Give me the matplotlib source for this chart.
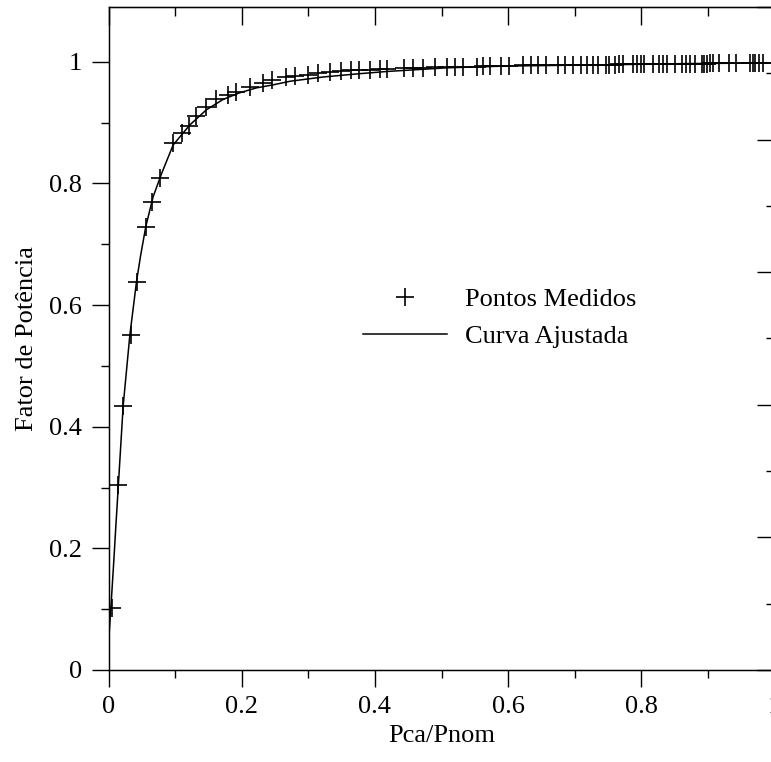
import matplotlib
matplotlib.use('Agg')
from matplotlib import pyplot as plt
from matplotlib.ticker import MultipleLocator

plt.rcParams['font.family'] = ['Liberation Serif', 'DejaVu Serif']

# pontos medidos (Pca/Pnom, fator de potencia)
pca_medido = [0.005, 0.0143, 0.022, 0.034, 0.043, 0.056, 0.065, 0.078, 0.097, 0.110,
              0.121, 0.131, 0.147, 0.162, 0.180, 0.192, 0.212, 0.232, 0.245, 0.267,
              0.280, 0.300, 0.315, 0.332, 0.349, 0.364, 0.376, 0.392, 0.407, 0.418,
              0.443, 0.457, 0.472, 0.490, 0.508, 0.520, 0.532, 0.554, 0.563, 0.573,
              0.590, 0.602, 0.622, 0.635, 0.645, 0.657, 0.675, 0.685, 0.698, 0.710,
              0.718, 0.728, 0.735, 0.747, 0.752, 0.761, 0.766, 0.773, 0.788, 0.794,
              0.799, 0.804, 0.817, 0.827, 0.832, 0.838, 0.851, 0.861, 0.867, 0.873,
              0.881, 0.891, 0.894, 0.898, 0.903, 0.908, 0.916, 0.932, 0.942, 0.963,
              0.967, 0.971, 0.977, 0.982]
fp_medido = [0.102, 0.304, 0.434, 0.551, 0.638, 0.729, 0.770, 0.809, 0.866, 0.883,
             0.894, 0.910, 0.926, 0.938, 0.946, 0.951, 0.958, 0.965, 0.970, 0.975,
             0.977, 0.979, 0.981, 0.983, 0.984, 0.986, 0.987, 0.987, 0.988, 0.988,
             0.989, 0.990, 0.990, 0.991, 0.991, 0.992, 0.992, 0.992, 0.993, 0.993,
             0.993, 0.993, 0.994, 0.994, 0.994, 0.994, 0.994, 0.995, 0.995, 0.995,
             0.995, 0.995, 0.995, 0.995, 0.995, 0.995, 0.996, 0.996, 0.996, 0.996,
             0.996, 0.996, 0.996, 0.996, 0.997, 0.997, 0.997, 0.997, 0.997, 0.997,
             0.997, 0.997, 0.997, 0.997, 0.998, 0.998, 0.998, 0.998, 0.998, 0.998,
             0.998, 0.998, 0.998, 0.998]

# curva ajustada
pca_curva = [0.0, 0.004, 0.008, 0.011, 0.0148, 0.022, 0.032, 0.042, 0.048, 0.056,
             0.067, 0.080, 0.097, 0.122, 0.147, 0.172, 0.197, 0.222, 0.247, 0.273,
             0.323, 0.373, 0.418, 0.508, 0.60, 0.75, 0.87, 1.0]
fp_curva = [0.044, 0.110, 0.180, 0.236, 0.304, 0.434, 0.550, 0.638, 0.680, 0.729,
            0.778, 0.817, 0.863, 0.896, 0.921, 0.938, 0.949, 0.957, 0.962, 0.968,
            0.975, 0.980, 0.984, 0.990, 0.993, 0.995, 0.997, 0.998]

xticks = [0, 0.2, 0.4, 0.6, 0.8, 1.0]
xtick_labels = ['0', '0.2', '0.4', '0.6', '0.8', '1']
yticks = [0, 0.2, 0.4, 0.6, 0.8, 1.0]
ytick_labels = ['0', '0.2', '0.4', '0.6', '0.8', '1']

fig = plt.figure(figsize=(7.71, 7.62), dpi=100)
ax = fig.add_axes([108.5 / 771, 92 / 762, 666 / 771, 663 / 762])

ax.plot(pca_medido, fp_medido, linestyle='none', marker='+', color='black',
        markersize=12.5, markeredgewidth=1.2, label='Pontos Medidos')
ax.plot(pca_curva, fp_curva, color='black', linewidth=1.1, label='Curva Ajustada')

ax.set_xlim(0, 1)
ax.set_ylim(0, 1.09)
ax.set_xticks(xticks)
ax.set_xticklabels(xtick_labels)
ax.set_yticks(yticks)
ax.set_yticklabels(ytick_labels)
ax.xaxis.set_minor_locator(MultipleLocator(0.1))
ax.yaxis.set_minor_locator(MultipleLocator(0.1))
ax.tick_params(which='major', direction='out', length=12, width=1, labelsize=19, pad=7)
ax.tick_params(which='minor', direction='out', length=6, width=1)

for s in ax.spines.values():
    s.set_linewidth(1)
    s.set_color('black')

# ticks internos em cima
top = ax.secondary_xaxis('top')
top.set_xticks(xticks)
top.set_xticklabels([])
top.xaxis.set_minor_locator(MultipleLocator(0.1))
top.tick_params(which='major', direction='in', length=13, width=1)
top.tick_params(which='minor', direction='in', length=6.5, width=1)

# eixo da direita com outra escala, sem rotulos
right = ax.twinx()
right.set_ylim(0, 1)
right.set_yticks(yticks)
right.set_yticklabels([])
right.yaxis.set_minor_locator(MultipleLocator(0.1))
right.tick_params(which='major', direction='in', length=13, width=1)
right.tick_params(which='minor', direction='in', length=6.5, width=1)

ax.set_xlabel('Pca/Pnom', fontsize=19, labelpad=5)
ax.set_ylabel('Fator de Potência', fontsize=19, labelpad=8)

ax.legend(frameon=False, loc='center left', bbox_to_anchor=(0.382, 0.531),
          handlelength=3.2, handletextpad=0.68, labelspacing=0.5,
          borderpad=0, borderaxespad=0, fontsize=19, numpoints=1)

fig.savefig('out.png', dpi=100)
